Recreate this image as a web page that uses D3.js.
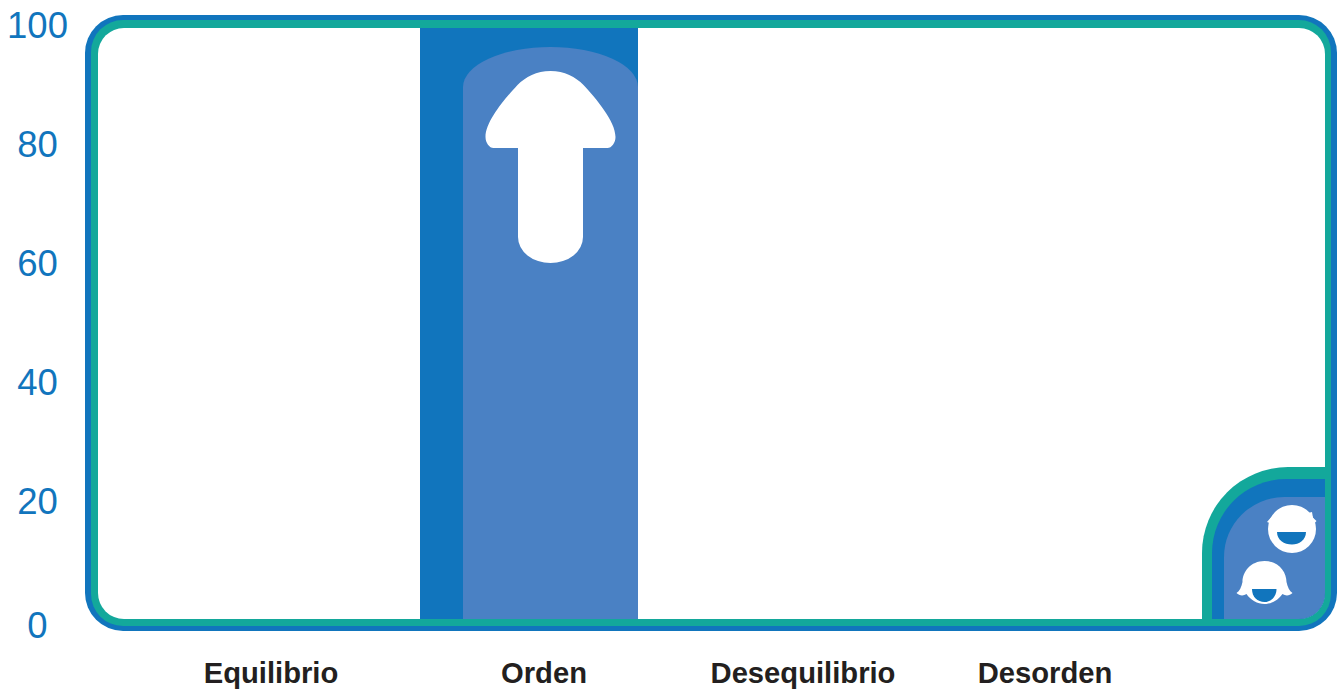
<!DOCTYPE html>
<html>
<head>
<meta charset="utf-8">
<script src="https://cdnjs.cloudflare.com/ajax/libs/d3/7.8.5/d3.min.js"></script>
<style>
    html, body { margin: 0; padding: 0; background: #fff; overflow: hidden; }
    svg { display: block; }
</style>
</head>
<body>
<div id="chart"></div>
<script>
var categories = ["Equilibrio", "Orden", "Desequilibrio", "Desorden"];
var values = [0, 100, 0, 0];
var yTicks = [0, 20, 40, 60, 80, 100];
var domeValue = 96.3;
var cornerValue = 25.7;

var blue = "#1175bd", teal = "#13a89b", lightBlue = "#4a81c4", black = "#231f20";

var width = 1340, height = 689;

var svg = d3.select("#chart").append("svg")
    .attr("width", width)
    .attr("height", height);

var x = d3.scaleOrdinal()
    .domain(categories)
    .range([271, 544, 803, 1045]);

var y = d3.scaleLinear()
    .domain([0, 100])
    .range([620, 25]);

// frame
function frameRect(x0, y0, x1, y1, r, color) {
    return svg.append("rect")
        .attr("x", x0).attr("y", y0)
        .attr("width", x1 - x0).attr("height", y1 - y0)
        .attr("rx", r).attr("ry", r)
        .attr("fill", color);
}
frameRect(85, 15, 1337, 631, 38, blue);
frameRect(91, 20, 1331, 626, 32, teal);
frameRect(98, 28, 1325, 619, 26, "#fff");

svg.append("clipPath").attr("id", "inner")
    .append("rect")
    .attr("x", 98).attr("y", 28)
    .attr("width", 1325 - 98).attr("height", 619 - 28)
    .attr("rx", 26).attr("ry", 26);

var plot = svg.append("g").attr("clip-path", "url(#inner)");

// bars
var barOffset = -124, barWidth = 218, innerOffset = 43;

plot.selectAll(".bar")
    .data(categories.map(function (c, i) { return {name: c, value: values[i]}; }))
    .enter().append("rect")
    .attr("class", "bar")
    .attr("x", function (d) { return x(d.name) + barOffset; })
    .attr("y", function (d) { return y(d.value); })
    .attr("width", barWidth)
    .attr("height", function (d) { return y(0) - y(d.value); })
    .attr("fill", blue);

// lighter column with the dome on top
var left = x("Orden") + barOffset + innerOffset, right = x("Orden") + barOffset + barWidth;
plot.append("path")
    .attr("d", "M" + left + "," + y(0) + "V" + (y(domeValue) + 40)
        + "A" + ((right - left) / 2) + ",40 0 0 1 " + right + "," + (y(domeValue) + 40)
        + "V" + y(0) + "Z")
    .attr("fill", lightBlue);

// arrow, origin at the tip
plot.append("path")
    .attr("transform", "translate(" + ((left + right) / 2) + "," + (y(domeValue) + 24) + ")")
    .attr("d", "M0,0C-14,0 -25,6 -33,14C-45,27 -65,50 -65,66C-65,72 -61,77 -57,77"
        + "H-32.5V166A32.5,26 0 0 0 32.5,166V77"
        + "H57C61,77 65,72 65,66C65,50 45,27 33,14C25,6 14,0 0,0Z")
    .attr("fill", "#fff");

// corner tab
function corner(x0, y0, r, color) {
    plot.append("path")
        .attr("d", "M" + x0 + ",640V" + (y0 + r)
            + "A" + r + "," + r + " 0 0 1 " + (x0 + r) + "," + y0
            + "H1340V640Z")
        .attr("fill", color);
}
corner(1202, y(cornerValue), 86, teal);
corner(1212, y(cornerValue) + 12, 74, blue);
corner(1224, y(cornerValue) + 30, 60, lightBlue);

// faces
var face1 = plot.append("g").attr("transform", "translate(1292,529)");
face1.append("circle").attr("r", 24).attr("fill", "#fff");
face1.append("path").attr("d", "M-25,-7L-19,-14L-20,-5ZM24.5,-8L18,-14L21,-4ZM20,-17L16,-16L21,-11Z").attr("fill", "#fff");
face1.append("path").attr("d", "M-15,3H14C14,11 7,15.5 0,15.5C-8,15.5 -15,11 -15,3Z").attr("fill", blue);

var face2 = plot.append("g").attr("transform", "translate(1264.5,583)");
face2.append("path")
    .attr("d", "M0,-22C-14,-22 -22,-11 -22,-1C-23,4 -25,8 -28,10C-25,13 -21,13 -18,11C-14,17 -7,21 0,21C7,21 14,17 18,11C21,13 25,13 28,10C25,8 23,4 22,-1C22,-11 14,-22 0,-22Z")
    .attr("fill", "#fff");
face2.append("path").attr("d", "M-12.5,6H12C12,14 6,19 0,19C-7,19 -12.5,14 -12.5,6Z").attr("fill", blue);

// axes
var yAxis = svg.append("g")
    .attr("transform", "translate(37.5,0.5)")
    .call(d3.axisLeft(y).tickValues(yTicks).tickSize(0).tickPadding(0));
yAxis.select(".domain").remove();
yAxis.selectAll("text")
    .attr("text-anchor", "middle")
    .attr("fill", blue)
    .attr("y", function (d) { return d === 0 ? 5 : 0; })
    .style("font", "36.5px 'Liberation Sans'");

var xAxis = svg.append("g")
    .attr("transform", "translate(-0.5,662.5)")
    .call(d3.axisBottom(x).tickValues(categories).tickSize(0).tickPadding(0));
xAxis.select(".domain").remove();
xAxis.selectAll("text")
    .attr("fill", black)
    .style("font", "bold 29.2px 'Liberation Sans'");
</script>
</body>
</html>
